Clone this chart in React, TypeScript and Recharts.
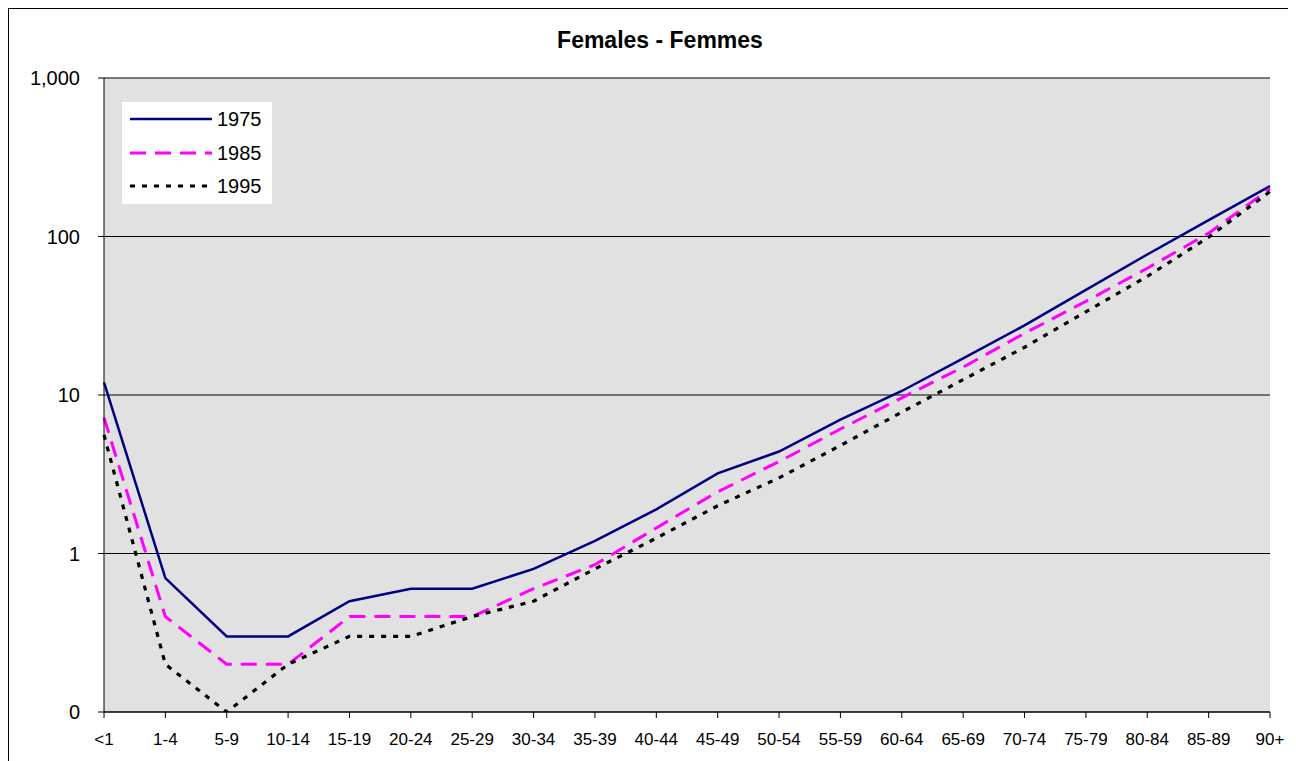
import React from "react";
import { LineChart, Line, XAxis, YAxis, CartesianGrid, Legend } from "recharts";

const ageGroups = [
  "<1", "1-4", "5-9", "10-14", "15-19", "20-24", "25-29", "30-34", "35-39", "40-44",
  "45-49", "50-54", "55-59", "60-64", "65-69", "70-74", "75-79", "80-84", "85-89", "90+",
];

const rate1975 = [12, 0.7, 0.3, 0.3, 0.5, 0.6, 0.6, 0.8, 1.2, 1.9, 3.2, 4.4, 7.0, 10.6, 17, 27.5, 46, 77, 127, 208];
const rate1985 = [7.2, 0.4, 0.2, 0.2, 0.4, 0.4, 0.4, 0.6, 0.85, 1.45, 2.45, 3.8, 6.1, 9.6, 15, 24.5, 39, 63, 105, 200];
const rate1995 = [5.6, 0.2, 0.1, 0.2, 0.3, 0.3, 0.4, 0.5, 0.8, 1.25, 2.0, 3.0, 4.8, 7.8, 12.5, 20, 33.5, 56, 99, 192];

const yTicks = [0.1, 1, 10, 100, 1000];

const series = [
  { key: "y1975", name: "1975", color: "#000080", dash: undefined, width: 2.5 },
  { key: "y1985", name: "1985", color: "#ff00ff", dash: "16 9", width: 3 },
  { key: "y1995", name: "1995", color: "#000000", dash: "5 7", width: 3.2 },
];

const data = ageGroups.map((g, i) => ({
  age: g,
  y1975: rate1975[i],
  y1985: rate1985[i],
  y1995: rate1995[i],
}));

const font = "Arial, 'Liberation Sans', sans-serif";

function LegendBox() {
  return (
    <div style={{ background: "#fff", width: 150, height: 102, position: "relative", fontFamily: font }}>
      {series.map((s, i) => (
        <div key={s.key} style={{ position: "absolute", left: 8, top: 6 + i * 33.5, display: "flex", alignItems: "center" }}>
          <svg width={84} height={22}>
            <line x1={0} y1={11} x2={82} y2={11} stroke={s.color} strokeWidth={s.width} strokeDasharray={s.dash} />
          </svg>
          <span style={{ fontSize: 20, color: "#000", marginLeft: 3, lineHeight: "22px" }}>{s.name}</span>
        </div>
      ))}
    </div>
  );
}

export default function App() {
  return (
    <div style={{ position: "relative", width: 1288, height: 753, borderTop: "1px solid #000", borderLeft: "1px solid #000", boxSizing: "border-box" }}>
      <div style={{ position: "absolute", left: 0, width: 1288, top: 18, textAlign: "center", fontFamily: font, fontWeight: 700, fontSize: 23, color: "#000" }}>
        <span style={{ position: "relative", left: 7 }}>Females - Femmes</span>
      </div>
      <LineChart width={1287} height={752} data={data} margin={{ top: 69, right: 26, left: 0, bottom: 19 }}>
        <CartesianGrid vertical={false} stroke="#000" strokeOpacity={1} fill="#e1e1e1" fillOpacity={1} />
        <XAxis
          dataKey="age"
          interval={0}
          tickSize={6}
          tickMargin={15}
          height={30}
          stroke="#000"
          tick={{ fill: "#000", fontSize: 17, fontFamily: font }}
        />
        <YAxis
          scale="log"
          domain={[0.1, 1000]}
          ticks={yTicks}
          allowDataOverflow
          width={95}
          tickSize={6}
          tickMargin={18}
          stroke="#000"
          tick={{ fill: "#000", fontSize: 20, fontFamily: font }}
          tickFormatter={(v: number) => (v < 1 ? "0" : v.toLocaleString("en-US"))}
        />
        <Legend
          layout="vertical"
          verticalAlign="middle"
          align="center"
          wrapperStyle={{ left: 113, top: 93, width: 150, height: 102 }}
          content={() => <LegendBox />}
        />
        {series.map((s) => (
          <Line
            key={s.key}
            type="linear"
            dataKey={s.key}
            name={s.name}
            stroke={s.color}
            strokeWidth={s.width}
            strokeDasharray={s.dash}
            dot={false}
            isAnimationActive={false}
          />
        ))}
      </LineChart>
    </div>
  );
}
